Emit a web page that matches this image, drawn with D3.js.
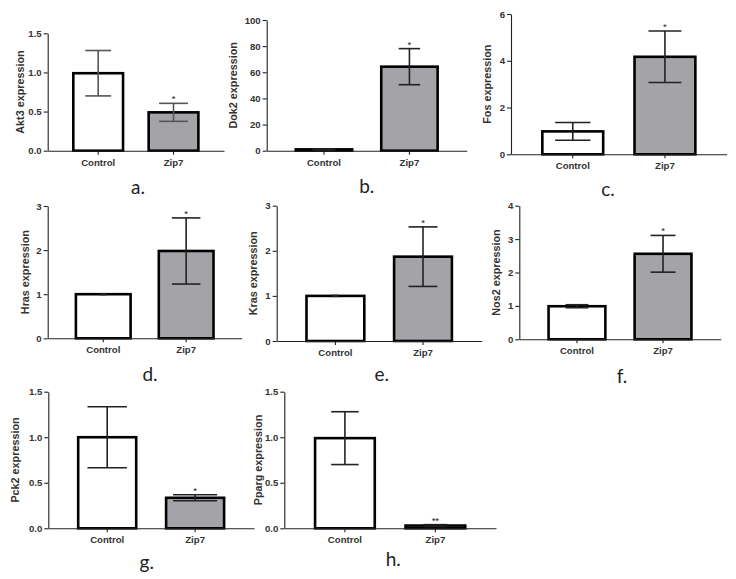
<!DOCTYPE html>
<html><head><meta charset="utf-8">
<script src="https://cdn.jsdelivr.net/npm/d3@7"></script>
<style>body{margin:0;background:#fff} svg{display:block}</style>
</head><body><svg id="chart" width="736" height="579"></svg>
<script>
// ---- data ----
const genes = ["Akt3","Dok2","Fos","Hras","Kras","Nos2","Pck2","Pparg"];
const panelLetters = ["a.","b.","c.","d.","e.","f.","g.","h."];
const categories = ["Control","Zip7"];
const controlMeans  = [0.99, 1.0, 0.98, 1.0, 1.0, 0.99, 1.0, 0.99];
const controlErrors = [0.29, 0.3, 0.38, 0.01, 0.01, 0.045, 0.335, 0.29];
const zip7Means  = [0.49, 64.3, 4.17, 1.98, 1.87, 2.56, 0.335, 0.03];
const zip7Errors = [0.115, 13.8, 1.1, 0.75, 0.66, 0.55, 0.033, 0.01];
const significance = ["*","*","*","*","*","*","*","**"];
const yMaxValues = [1.5, 100, 6, 3, 3, 4, 1.5, 1.5];
const yTickValues = [
  [0,0.5,1,1.5],[0,20,40,60,80,100],[0,2,4,6],[0,1,2,3],
  [0,1,2,3],[0,1,2,3,4],[0,0.5,1,1.5],[0,0.5,1,1.5]
];
const yTickFormats = [".1f","d","d","d","d","d",".1f",".1f"];

// ---- layout (positions only) ----
const layout = [
  {x0:47.7, x1:224,   yTop:33.3,  yBot:150.7, tdx:-27.7, lx:138,   ly:194, cap:[0.26,0.29], ec:"#555"},
  {x0:266.7,x1:466.7, yTop:20,    yBot:150.7, tdx:-33.7, lx:366.7, ly:193, cap:[0.2,0.19],  ec:"#222"},
  {x0:511,  x1:726.7, yTop:14,    yBot:154.3, tdx:-24,   lx:608,   ly:196, cap:[0.29,0.27], ec:"#222"},
  {x0:47.7, x1:241.7, yTop:206,   yBot:338.3, tdx:-22.7, lx:150,   ly:381, cap:[0.05,0.26], ec:"#222"},
  {x0:276.7,x1:481.7, yTop:205.7, yBot:341,   tdx:-23.4, lx:381.7, ly:381, cap:[0.05,0.25], ec:"#222"},
  {x0:519.3,x1:720.7, yTop:205.7, yBot:339.3, tdx:-22.6, lx:622,   ly:383, cap:[0.2,0.22],  ec:"#222"},
  {x0:48.3, x1:254,   yTop:391.7, yBot:528.3, tdx:-33.3, lx:146.7, ly:569, cap:[0.34,0.38], ec:"#222"},
  {x0:284.3,x1:496,   yTop:391.7, yBot:528.3, tdx:-26,   lx:393.3, ly:566, cap:[0.23,0.2],  ec:"#222"}
];

const svg = d3.select("#chart");
const FONT = "'Liberation Sans', Arial, sans-serif";

layout.forEach((L, i) => {
  const g = svg.append("g");
  const x = d3.scaleBand().domain(categories).range([L.x0, L.x1])
              .paddingInner(0.34).paddingOuter(0.34);
  const y = d3.scaleLinear().domain([0, yMaxValues[i]]).range([L.yBot, L.yTop]);
  const data = categories.map((c, j) => ({
    cat: c,
    mean: j ? zip7Means[i] : controlMeans[i],
    err: j ? zip7Errors[i] : controlErrors[i],
    j
  }));

  // bars
  g.selectAll("rect.bar").data(data).join("rect")
    .attr("x", d => x(d.cat))
    .attr("width", x.bandwidth())
    .attr("y", d => y(d.mean))
    .attr("height", d => y(0) - y(d.mean))
    .attr("fill", d => d.j ? "#a3a3a8" : "#ffffff")
    .attr("stroke", "#000")
    .attr("stroke-width", 2.6);

  // error bars
  data.forEach(d => {
    const cx = x(d.cat) + x.bandwidth() / 2;
    const hw = x.bandwidth() * L.cap[d.j];
    const yt = y(d.mean + d.err), yb = y(Math.max(0, d.mean - d.err));
    const eg = g.append("g").attr("stroke", L.ec).attr("stroke-width", 1.6);
    eg.append("line").attr("x1", cx).attr("x2", cx).attr("y1", yt).attr("y2", yb);
    eg.append("line").attr("x1", cx - hw).attr("x2", cx + hw).attr("y1", yt).attr("y2", yt);
    eg.append("line").attr("x1", cx - hw).attr("x2", cx + hw).attr("y1", yb).attr("y2", yb);
    if (d.j === 1) {
      g.append("text").attr("x", cx).attr("y", yt - 1)
        .attr("text-anchor", "middle")
        .attr("font-family", FONT).attr("font-size", 9.5).attr("fill", "#222")
        .text(significance[i]);
    }
  });

  // y axis
  const ya = g.append("g").attr("transform", `translate(${L.x0},0)`)
    .call(d3.axisLeft(y).tickValues(yTickValues[i])
      .tickFormat(d3.format(yTickFormats[i]))
      .tickSize(4).tickPadding(2).tickSizeOuter(0));
  // x axis
  const xa = g.append("g").attr("transform", `translate(0,${L.yBot})`)
    .call(d3.axisBottom(x).tickSize(4).tickPadding(4).tickSizeOuter(0));
  [ya, xa].forEach(a => {
    a.selectAll("path, line").attr("stroke", "#222").attr("stroke-width", 1.1);
    a.selectAll("text").attr("font-family", FONT).attr("font-weight", "bold")
      .attr("font-size", 9.6).attr("fill", "#333");
  });

  // y title
  const ym = (L.yTop + L.yBot) / 2;
  g.append("text")
    .attr("transform", `translate(${L.x0 + L.tdx},${ym}) rotate(-90)`)
    .attr("text-anchor", "middle").attr("dy", "0.35em")
    .attr("font-family", FONT).attr("font-weight", "bold")
    .attr("font-size", 10.8).attr("fill", "#333")
    .text(genes[i] + " expression");

  // panel letter
  g.append("text").attr("x", L.lx).attr("y", L.ly)
    .attr("text-anchor", "middle")
    .attr("font-family", "Lato, 'Open Sans', sans-serif").attr("font-size", 19)
    .attr("fill", "#222")
    .text(panelLetters[i]);
});
</script></body></html>
